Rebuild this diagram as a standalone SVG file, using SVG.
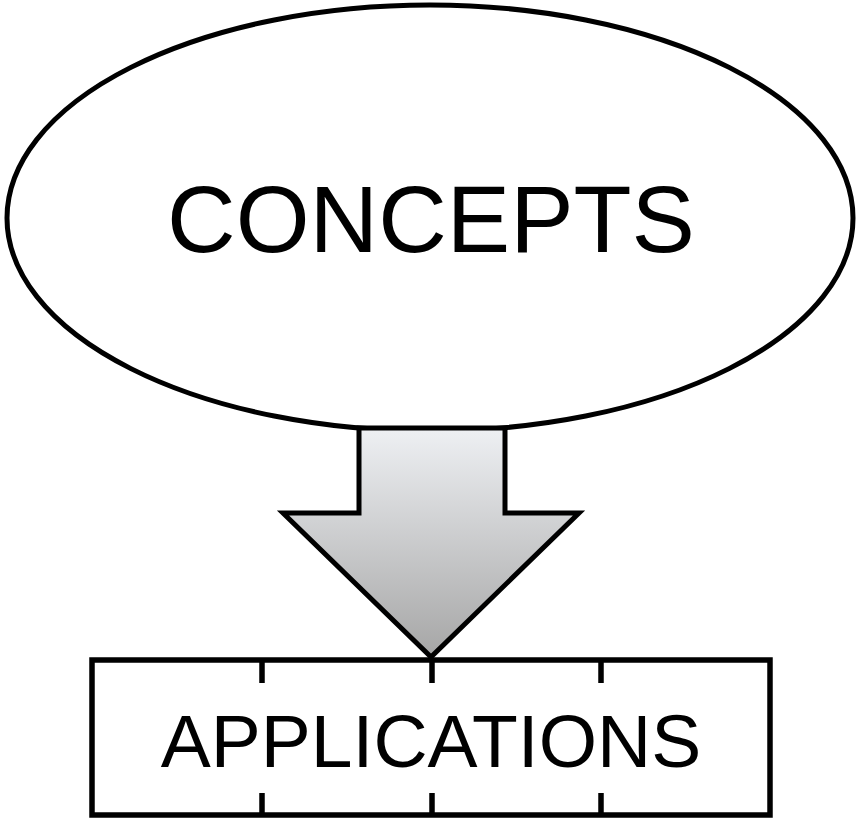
<svg xmlns="http://www.w3.org/2000/svg" width="858" height="819" viewBox="0 0 858 819">
  <style>
    .outline { fill: #ffffff; stroke: #000000; }
    .label { font-family: "Liberation Sans", Arial, sans-serif; fill: #000000; text-anchor: middle; }
    .tick { stroke: #000000; stroke-width: 5.5; fill: none; }
  </style>
  <defs>
    <linearGradient id="arrowFill" x1="0" y1="0" x2="0" y2="1">
      <stop offset="0" stop-color="#eef0f3"/>
      <stop offset="1" stop-color="#a6a6a6"/>
    </linearGradient>
  </defs>

  <g id="concepts">
    <ellipse class="outline" cx="430" cy="218" rx="423" ry="213" stroke-width="5"/>
    <text class="label" x="431" y="252" font-size="95">CONCEPTS</text>
  </g>

  <g id="connectors">
    <path d="M359,428 L505,428 L505,513 L579,513 L431,657 L283,513 L359,513 Z" fill="url(#arrowFill)" stroke="#000000" stroke-width="5" stroke-linejoin="miter"/>
  </g>

  <g id="applications">
    <rect class="outline" x="92" y="660" width="678" height="155" stroke-width="5.5"/>
    <path class="tick" d="M262,660 V683 M432,660 V683 M601,660 V683 M262,793 V815 M432,793 V815 M601,793 V815"/>
    <text class="label" x="431" y="767" font-size="75">APPLICATIONS</text>
  </g>
</svg>
